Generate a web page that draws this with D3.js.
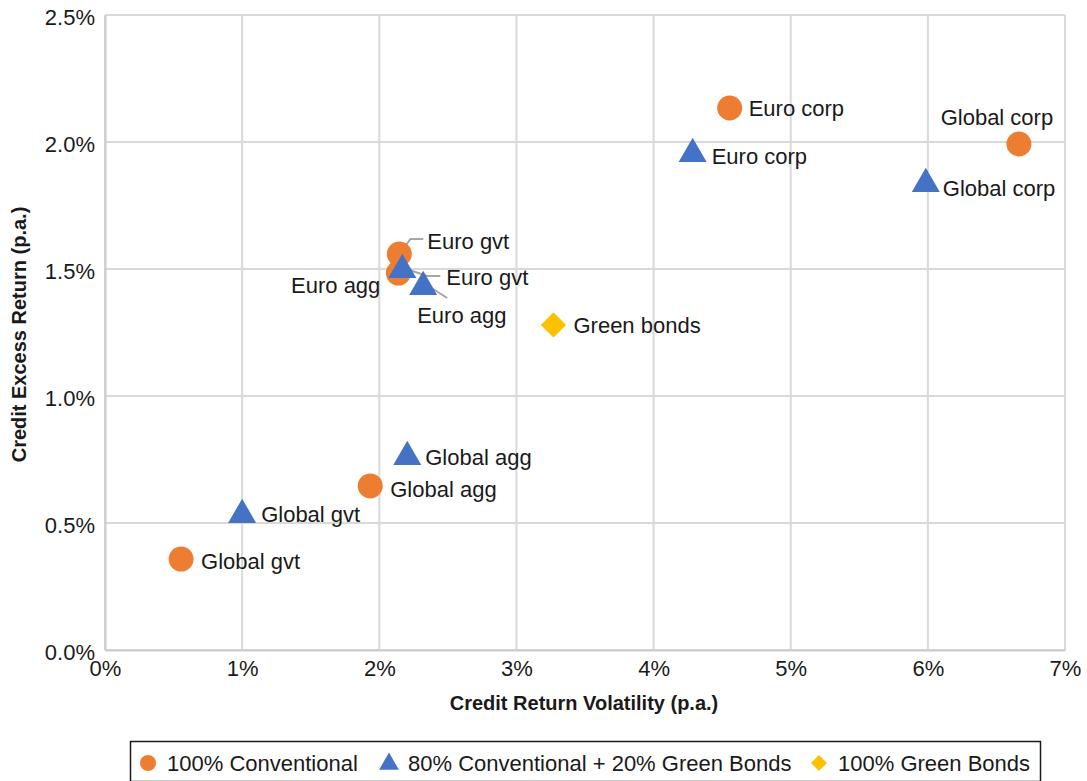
<!DOCTYPE html>
<html>
<head>
<meta charset="utf-8">
<script src="https://cdn.jsdelivr.net/npm/d3@7"></script>
<style>
  body { margin: 0; background: #fff; }
  svg text { font-family: "Liberation Sans", Arial, sans-serif; fill: #1a1a1a; }
</style>
</head>
<body>
<svg id="chart" width="1087" height="781"></svg>
<script>
// values in % p.a.
const names = ["Global gvt", "Global agg", "Euro agg", "Euro gvt", "Euro corp", "Global corp"];
const convVol = [0.555, 1.934, 2.139, 2.146, 4.555, 6.664];
const convRet = [0.358, 0.646, 1.484, 1.559, 2.134, 1.992];
const mixVol = [1.0, 2.204, 2.32, 2.168, 4.285, 5.985];
const mixRet = [0.54, 0.768, 1.437, 1.504, 1.961, 1.843];
const greenName = ["Green bonds"];
const greenVol = [3.27];
const greenRet = [1.28];
const xTicks = [0, 1, 2, 3, 4, 5, 6, 7];
const yTicks = [0, 0.5, 1.0, 1.5, 2.0, 2.5];
const legendLabels = ["100% Conventional", "80% Conventional + 20% Green Bonds", "100% Green Bonds"];

const colors = { conv: "#ED7D31", mix: "#4472C4", green: "#FFC000" };

const svg = d3.select("#chart");
const margin = { left: 105, right: 22, top: 15, bottom: 131 };
const width = 1087, height = 781;

const x = d3.scaleLinear().domain([0, 7]).range([margin.left, width - margin.right]);
const y = d3.scaleLinear().domain([0, 2.5]).range([height - margin.bottom, margin.top]);

// gridlines
const grid = svg.append("g");
grid.selectAll(".vg").data(xTicks).enter().append("line")
    .attr("x1", d => x(d)).attr("x2", d => x(d))
    .attr("y1", y(0)).attr("y2", y(2.5))
    .attr("stroke", "#d9d9d9").attr("stroke-width", 2);
grid.selectAll(".hg").data(yTicks).enter().append("line")
    .attr("x1", x(0)).attr("x2", x(7))
    .attr("y1", d => y(d)).attr("y2", d => y(d))
    .attr("stroke", "#d9d9d9").attr("stroke-width", 2);

// axes
const xAxis = svg.append("g")
    .attr("transform", `translate(0,${y(0)})`)
    .call(d3.axisBottom(x).tickValues(xTicks).tickSize(0).tickPadding(7).tickFormat(d => d + "%"));
const yAxis = svg.append("g")
    .attr("transform", `translate(${x(0)},0)`)
    .call(d3.axisLeft(y).tickValues(yTicks).tickSize(0).tickPadding(10).tickFormat(d => d.toFixed(1) + "%"));
[xAxis, yAxis].forEach(a => {
    a.select(".domain").attr("stroke", "#cccccc").attr("stroke-width", 2);
    a.selectAll("text").style("font-size", "22px").attr("fill", "#1a1a1a");
});
xAxis.selectAll("text").attr("dy", "0.85em");
yAxis.selectAll("text").attr("dy", "0.45em");

// axis titles
svg.append("text")
    .attr("x", (x(0) + x(7)) / 2 - 1).attr("y", 710)
    .attr("text-anchor", "middle")
    .style("font-size", "20px").style("font-weight", "bold")
    .text("Credit Return Volatility (p.a.)");
svg.append("text")
    .attr("transform", `translate(26,${(y(0) + y(2.5)) / 2 + 2}) rotate(-90)`)
    .attr("text-anchor", "middle")
    .style("font-size", "20px").style("font-weight", "bold")
    .text("Credit Excess Return (p.a.)");

const diamond = {
    draw(ctx, size) {
        const r = Math.sqrt(size / 2);
        ctx.moveTo(0, -r); ctx.lineTo(r, 0); ctx.lineTo(0, r); ctx.lineTo(-r, 0); ctx.closePath();
    }
};
const symType = { conv: d3.symbolCircle, mix: d3.symbolTriangle, green: diamond };
const symSize = { conv: 490, mix: 340, green: 320 };

const convData = names.map((n, i) => ({ name: n, vol: convVol[i], ret: convRet[i] }));
const mixData = names.map((n, i) => ({ name: n, vol: mixVol[i], ret: mixRet[i] }));
const greenData = greenName.map((n, i) => ({ name: n, vol: greenVol[i], ret: greenRet[i] }));

// label offsets (dx, dy from marker, anchor) and optional leader lines
const convLabel = {
    "Global gvt": [20, 2, "start"],
    "Global agg": [20, 3, "start"],
    "Euro agg": [-18, 12, "end"],
    "Euro gvt": [28, -13, "start", [[2, -2], [11, -15], [24, -15]]],
    "Euro corp": [19, 0, "start"],
    "Global corp": [-22, -27, "middle"]
};
const mixLabel = {
    "Global gvt": [19, 1, "start"],
    "Global agg": [18, 2, "start"],
    "Euro agg": [-6, 30, "start", [[-1, -3], [24, 13]]],
    "Euro gvt": [44, 9, "start", [[1, 0], [25, 8], [38, 8]]],
    "Euro corp": [19, 4, "start"],
    "Global corp": [17, 6, "start"]
};
const greenLabel = { "Green bonds": [20, 0, "start"] };

function drawSeries(data, key, labels) {
    const g = svg.append("g");
    data.forEach(d => {
        const px = x(d.vol), py = y(d.ret);
        const lab = labels[d.name];
        if (lab[3]) {
            g.append("polyline")
                .attr("points", lab[3].map(p => [px + p[0], py + p[1]].join(",")).join(" "))
                .attr("fill", "none").attr("stroke", "#a6a6a6").attr("stroke-width", 2);
        }
    });
    g.selectAll("path").data(data).enter().append("path")
        .attr("d", d3.symbol().type(symType[key]).size(symSize[key]))
        .attr("transform", d => `translate(${x(d.vol)},${y(d.ret) + (key === "mix" ? 2 : 0)})`)
        .attr("fill", colors[key]);
    return g;
}

function drawLabels(data, labels) {
    svg.append("g").selectAll("text").data(data).enter().append("text")
        .attr("x", d => x(d.vol) + labels[d.name][0])
        .attr("y", d => y(d.ret) + labels[d.name][1])
        .attr("dy", "0.35em")
        .attr("text-anchor", d => labels[d.name][2])
        .style("font-size", "22px")
        .text(d => d.name);
}

drawSeries(convData, "conv", convLabel);
drawSeries(mixData, "mix", mixLabel);
drawSeries(greenData, "green", greenLabel);
drawLabels(convData, convLabel);
drawLabels(mixData, mixLabel);
drawLabels(greenData, greenLabel);

// legend
const legend = svg.append("g");
legend.append("rect")
    .attr("x", 130.5).attr("y", 741.5).attr("width", 910).attr("height", 40)
    .attr("fill", "#fff").attr("stroke", "#1a1a1a").attr("stroke-width", 1.5);
const legendX = [148, 389, 819];
const legendKeys = ["conv", "mix", "green"];
const legendSize = { conv: 200, mix: 170, green: 128 };
legendLabels.forEach((t, i) => {
    const k = legendKeys[i];
    legend.append("path")
        .attr("d", d3.symbol().type(symType[k]).size(legendSize[k]))
        .attr("transform", `translate(${legendX[i]},${763 + (k === "mix" ? 1 : 0)})`)
        .attr("fill", colors[k]);
    legend.append("text")
        .attr("x", legendX[i] + 19).attr("y", 763)
        .attr("dy", "0.35em")
        .style("font-size", "22px")
        .text(t);
});
</script>
</body>
</html>
